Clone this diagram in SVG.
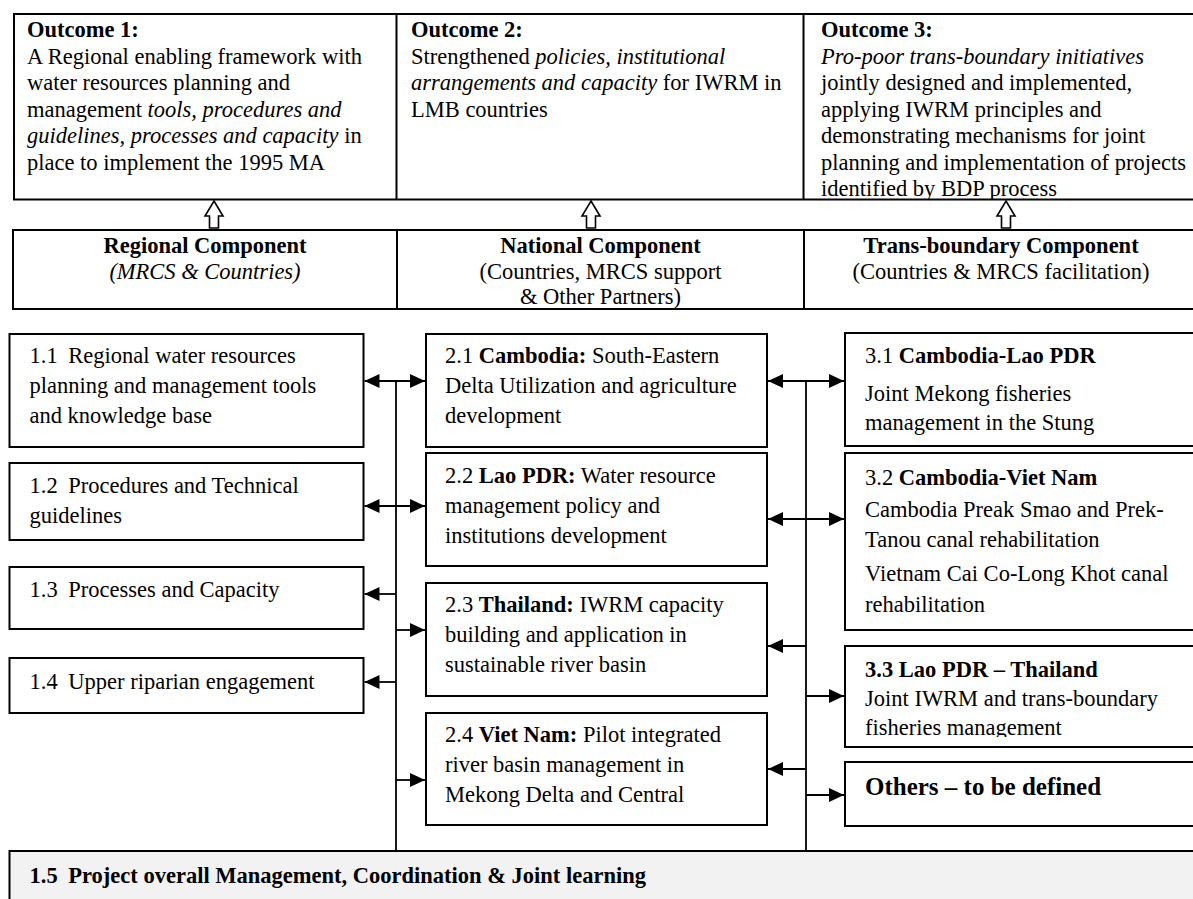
<svg xmlns="http://www.w3.org/2000/svg" width="1193" height="899" viewBox="0 0 1193 899">
<style>
text{font-family:"Liberation Serif","Times New Roman",serif;font-size:22.5px;fill:#000}
.b{font-weight:bold}
.i{font-style:italic}
.box{fill:#fff;stroke:#000;stroke-width:2}
.ln{fill:none;stroke:#000;stroke-width:2}
.con{fill:none;stroke:#000;stroke-width:1.8}
.up{fill:#fff;stroke:#000;stroke-width:1.6;stroke-linejoin:miter}
.mid{text-anchor:middle}
</style>
<defs>
<marker id="ah" viewBox="0 0 15 14" refX="15" refY="7" markerWidth="15" markerHeight="14" markerUnits="userSpaceOnUse" orient="auto-start-reverse">
<path d="M0,0 L15,7 L0,14 z" fill="#000"/>
</marker>
<clipPath id="c3"><rect x="804" y="14" width="400" height="185"/></clipPath>
<clipPath id="c33"><rect x="846" y="647" width="360" height="90"/></clipPath>
<path id="uparrow" d="M0,0 L9,15 L4.5,15 L4.5,27 L-4.5,27 L-4.5,15 L-9,15 Z"/>
</defs>

<g id="outcomes">
<rect class="box" x="14" y="14" width="1184" height="185.5"/>
<line class="ln" x1="396.5" y1="14" x2="396.5" y2="199.5"/>
<line class="ln" x1="803.5" y1="14" x2="803.5" y2="199.5"/>
</g>
<g id="outcome1">
<text x="27" y="37" class="b">Outcome 1:</text>
<text x="27" y="63.5">A Regional enabling framework with</text>
<text x="27" y="90">water resources planning and</text>
<text x="27" y="116.5">management <tspan class="i">tools, procedures and</tspan></text>
<text x="27" y="143"><tspan class="i">guidelines, processes and capacity</tspan> in</text>
<text x="27" y="169.5">place to implement the 1995 MA</text>
</g>
<g id="outcome2">
<text x="411" y="37" class="b">Outcome 2:</text>
<text x="411" y="63.5">Strengthened <tspan class="i">policies, institutional</tspan></text>
<text x="411" y="90"><tspan class="i">arrangements and capacity</tspan> for IWRM in</text>
<text x="411" y="116.5">LMB countries</text>
</g>
<g id="outcome3" clip-path="url(#c3)">
<text x="821" y="37" class="b">Outcome 3:</text>
<text x="821" y="63.5" class="i">Pro-poor trans-boundary initiatives</text>
<text x="821" y="90">jointly designed and implemented,</text>
<text x="821" y="116.5">applying IWRM principles and</text>
<text x="821" y="143">demonstrating mechanisms for joint</text>
<text x="821" y="169.5">planning and implementation of projects</text>
<text x="821" y="196">identified by BDP process</text>
</g>

<g id="up-arrows">
<use href="#uparrow" class="up" x="214" y="201"/>
<use href="#uparrow" class="up" x="591" y="201"/>
<use href="#uparrow" class="up" x="1006" y="201"/>
</g>

<g id="components">
<rect class="box" x="13" y="230" width="1185" height="79"/>
<line class="ln" x1="397" y1="230" x2="397" y2="309"/>
<line class="ln" x1="804" y1="230" x2="804" y2="309"/>
</g>
<g id="regional-component">
<text x="205" y="253" class="b mid">Regional Component</text>
<text x="205" y="279" class="i mid">(MRCS &amp; Countries)</text>
</g>
<g id="national-component">
<text x="600.5" y="253" class="b mid">National Component</text>
<text x="600.5" y="279" class="mid">(Countries, MRCS support</text>
<text x="600.5" y="304" class="mid">&amp; Other Partners)</text>
</g>
<g id="transboundary-component">
<text x="1001" y="253" class="b mid">Trans-boundary Component</text>
<text x="1001" y="279" class="mid">(Countries &amp; MRCS facilitation)</text>
</g>

<g id="n1-1">
<rect class="box" x="9.5" y="334" width="354" height="113"/>
<text x="29.5" y="363">1.1<tspan x="68.3">Regional water resources</tspan></text>
<text x="29.5" y="393">planning and management tools</text>
<text x="29.5" y="423">and knowledge base</text>
</g>
<g id="n1-2">
<rect class="box" x="9.5" y="463" width="354" height="77"/>
<text x="29.5" y="493">1.2<tspan x="68.3">Procedures and Technical</tspan></text>
<text x="29.5" y="523">guidelines</text>
</g>
<g id="n1-3">
<rect class="box" x="9.5" y="567" width="354" height="62"/>
<text x="29.5" y="597">1.3<tspan x="68.3">Processes and Capacity</tspan></text>
</g>
<g id="n1-4">
<rect class="box" x="9.5" y="658" width="354" height="55"/>
<text x="29.5" y="689">1.4<tspan x="68.3">Upper riparian engagement</tspan></text>
</g>

<g id="n2-1">
<rect class="box" x="426" y="334" width="341" height="113"/>
<text x="445" y="363">2.1 <tspan class="b">Cambodia:</tspan> South-Eastern</text>
<text x="445" y="393">Delta Utilization and agriculture</text>
<text x="445" y="423">development</text>
</g>
<g id="n2-2">
<rect class="box" x="426" y="453" width="341" height="113"/>
<text x="445" y="483">2.2 <tspan class="b">Lao PDR:</tspan> Water resource</text>
<text x="445" y="513">management policy and</text>
<text x="445" y="543">institutions development</text>
</g>
<g id="n2-3">
<rect class="box" x="426" y="583" width="341" height="113"/>
<text x="445" y="612">2.3 <tspan class="b">Thailand:</tspan> IWRM capacity</text>
<text x="445" y="642">building and application in</text>
<text x="445" y="672">sustainable river basin</text>
</g>
<g id="n2-4">
<rect class="box" x="426" y="713" width="341" height="112"/>
<text x="445" y="742">2.4 <tspan class="b">Viet Nam:</tspan> Pilot integrated</text>
<text x="445" y="772">river basin management in</text>
<text x="445" y="802">Mekong Delta and Central</text>
</g>

<g id="n3-1">
<rect class="box" x="845" y="333" width="353" height="113"/>
<text x="865" y="363">3.1 <tspan class="b">Cambodia-Lao PDR</tspan></text>
<text x="865" y="401">Joint Mekong fisheries</text>
<text x="865" y="430">management in the Stung</text>
</g>
<g id="n3-2">
<rect class="box" x="845" y="453" width="353" height="177"/>
<text x="865" y="485">3.2 <tspan class="b">Cambodia-Viet Nam</tspan></text>
<text x="865" y="517">Cambodia Preak Smao and Prek-</text>
<text x="865" y="547">Tanou canal rehabilitation</text>
<text x="865" y="581">Vietnam Cai Co-Long Khot canal</text>
<text x="865" y="612">rehabilitation</text>
</g>
<g id="n3-3">
<rect class="box" x="845" y="646" width="353" height="101"/>
<g clip-path="url(#c33)">
<text x="865" y="677" class="b">3.3 Lao PDR – Thailand</text>
<text x="865" y="706">Joint IWRM and trans-boundary</text>
<text x="865" y="735">fisheries management</text>
</g>
</g>
<g id="n-others">
<rect class="box" x="845" y="762" width="353" height="64"/>
<text x="865" y="795" class="b" style="font-size:25px">Others – to be defined</text>
</g>

<g id="n1-5">
<rect x="9.5" y="851" width="1190" height="60" fill="#f2f2f2" stroke="#000" stroke-width="2"/>
<text x="29.5" y="883" class="b">1.5<tspan x="68.3">Project overall Management, Coordination &amp; Joint learning</tspan></text>
</g>

<g id="connectors">
<line class="con" x1="396" y1="381" x2="396" y2="851"/>
<line class="con" x1="806" y1="381" x2="806" y2="851"/>
<path class="con" d="M364.5,381 H425" marker-start="url(#ah)" marker-end="url(#ah)"/>
<path class="con" d="M364.5,506 H425" marker-start="url(#ah)" marker-end="url(#ah)"/>
<path class="con" d="M396,594 H364.5" marker-end="url(#ah)"/>
<path class="con" d="M396,630 H425" marker-end="url(#ah)"/>
<path class="con" d="M396,682 H364.5" marker-end="url(#ah)"/>
<path class="con" d="M396,780 H425" marker-end="url(#ah)"/>
<path class="con" d="M768,381 H844" marker-start="url(#ah)" marker-end="url(#ah)"/>
<path class="con" d="M768,519 H844" marker-start="url(#ah)" marker-end="url(#ah)"/>
<path class="con" d="M806,646 H768" marker-end="url(#ah)"/>
<path class="con" d="M806,696 H844" marker-end="url(#ah)"/>
<path class="con" d="M806,769 H768" marker-end="url(#ah)"/>
<path class="con" d="M806,795 H844" marker-end="url(#ah)"/>
</g>
</svg>
